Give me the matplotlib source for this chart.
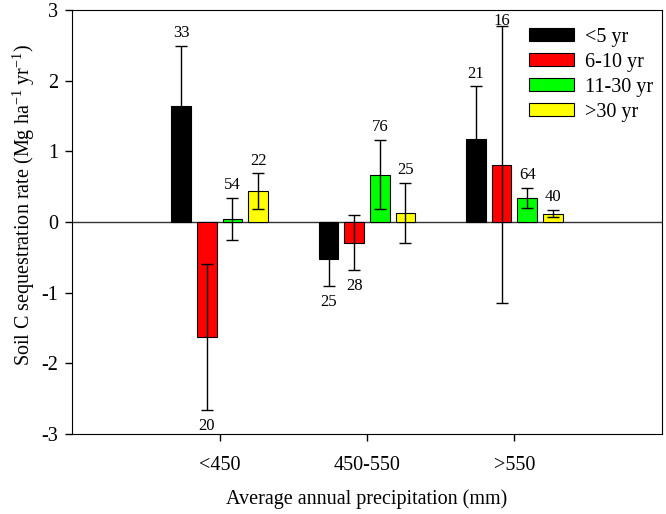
import matplotlib
matplotlib.use('Agg')
import matplotlib.pyplot as plt
import numpy as np

precip = ['<450', '450-550', '>550']
ages = ['<5 yr', '6-10 yr', '11-30 yr', '>30 yr']
colors = ['#000000', '#ff0000', '#00ff00', '#ffff00']

# rows = age class, columns = precipitation class
rate = [[1.64, -0.53, 1.17],
        [-1.63, -0.29, 0.81],
        [0.04, 0.67, 0.34],
        [0.44, 0.13, 0.12]]
err = [[0.85, 0.38, 0.75],
       [1.03, 0.39, 1.96],
       [0.30, 0.49, 0.145],
       [0.25, 0.42, 0.05]]
n_obs = [[33, 25, 21],
         [20, 28, 16],
         [54, 76, 64],
         [22, 25, 40]]

plt.rcParams['font.family'] = ['Liberation Serif', 'DejaVu Serif']
plt.rcParams['mathtext.fontset'] = 'custom'
plt.rcParams['mathtext.rm'] = 'Liberation Serif'

fig = plt.figure(figsize=(6.66, 5.14), dpi=100)
ax = fig.add_axes([0.1086, 0.1556, 0.8849, 0.8249])

x = np.arange(1, len(precip) + 1)
width = 0.135
step = 0.174

for i, age in enumerate(ages):
    xpos = x + (i - 1.5) * step
    ax.bar(xpos, rate[i], width, color=colors[i], edgecolor='black',
           linewidth=0.8, label=age, zorder=2)
    ax.errorbar(xpos, rate[i], yerr=err[i], fmt='none', ecolor='black',
                elinewidth=1, capsize=4, capthick=1, zorder=3)
    for xp, v, e, n in zip(xpos, rate[i], err[i], n_obs[i]):
        if v >= 0:
            ypos = min(v + e + 0.18, 2.85)
        else:
            ypos = v - e - 0.22
        ax.text(xp, ypos, str(n), ha='center', va='center', fontsize=12, zorder=4)

ax.axhline(0, color='#333333', linewidth=1, zorder=1)

ax.set_xlim(0, 4)
ax.set_ylim(-3, 3)
ax.set_xticks(x)
ax.set_xticklabels(precip, fontsize=14.5)
ax.set_yticks(range(-3, 4))
ax.set_yticklabels([str(t) for t in range(-3, 4)], fontsize=14.5)
ax.tick_params(direction='out', length=5, width=1)
ax.tick_params(axis='x', pad=11)
ax.tick_params(axis='y', pad=5)

ax.set_xlabel('Average annual precipitation (mm)', fontsize=14.5, labelpad=10)
ax.set_ylabel('Soil C sequestration rate (Mg ha$^{-1}$ yr$^{-1}$)', fontsize=14.5)
ax.yaxis.set_label_coords(-0.06, 0.54)

ax.legend(loc='upper left', frameon=False, fontsize=14.5, handlelength=2.25,
          handleheight=0.6, handletextpad=0.55, labelspacing=0.3,
          borderpad=0, borderaxespad=0, bbox_to_anchor=(0.775, 0.958))

fig.savefig('out.png', dpi=100)
